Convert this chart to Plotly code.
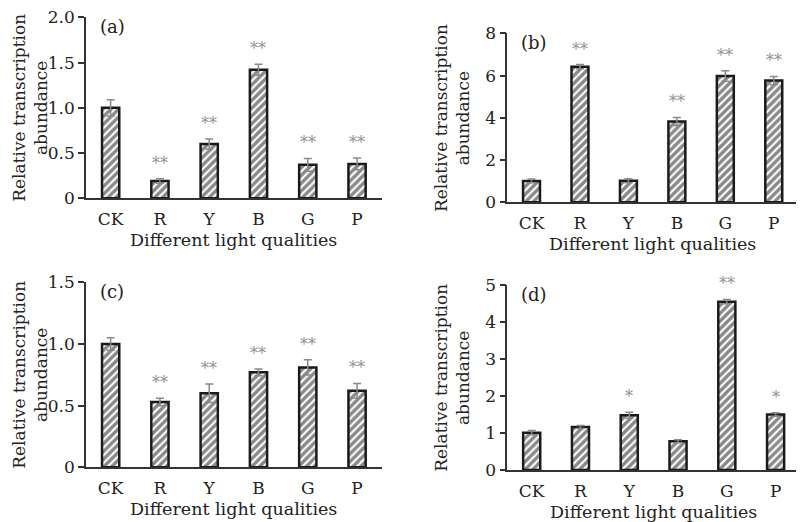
import plotly.graph_objects as go

categories = ["CK", "R", "Y", "B", "G", "P"]

a_values = [1.00, 0.19, 0.60, 1.42, 0.37, 0.38]
a_errors = [0.09, 0.025, 0.055, 0.06, 0.07, 0.065]
a_marks = ["", "**", "**", "**", "**", "**"]

b_values = [1.01, 6.42, 1.02, 3.83, 5.98, 5.76]
b_errors = [0.09, 0.10, 0.09, 0.19, 0.25, 0.20]
b_marks = ["", "**", "", "**", "**", "**"]

c_values = [1.00, 0.53, 0.60, 0.77, 0.81, 0.62]
c_errors = [0.05, 0.03, 0.075, 0.027, 0.062, 0.06]
c_marks = ["", "**", "**", "**", "**", "**"]

d_values = [1.01, 1.16, 1.48, 0.775, 4.55, 1.50]
d_errors = [0.06, 0.04, 0.08, 0.04, 0.06, 0.05]
d_marks = ["", "", "*", "", "**", "*"]

a_ticks = [0, 0.5, 1.0, 1.5, 2.0]
a_ticktext = ["0", "0.5", "1.0", "1.5", "2.0"]
b_ticks = [0, 2, 4, 6, 8]
b_ticktext = ["0", "2", "4", "6", "8"]
c_ticks = [0, 0.5, 1.0, 1.5]
c_ticktext = ["0", "0.5", "1.0", "1.5"]
d_ticks = [0, 1, 2, 3, 4, 5]
d_ticktext = ["0", "1", "2", "3", "4", "5"]

panel_labels = ["(a)", "(b)", "(c)", "(d)"]
y_title = "Relative transcription<br>abundance"
x_title = "Different light qualities"

W, H = 804, 522
OFF = 8  # page body margin offset
FONT = "DejaVu Serif"


def px_x(v):
    return (v - OFF) / W


def px_y(v):
    return 1 - (v - OFF) / H


panels = [
    dict(vals=a_values, errs=a_errors, marks=a_marks, ticks=a_ticks, ticktext=a_ticktext,
         yrange=[0, 2.0], xpx=(86, 381.7), ypx=(198.3, 17.3)),
    dict(vals=b_values, errs=b_errors, marks=b_marks, ticks=b_ticks, ticktext=b_ticktext,
         yrange=[0, 8], xpx=(507.3, 798), ypx=(202.3, 33.3)),
    dict(vals=c_values, errs=c_errors, marks=c_marks, ticks=c_ticks, ticktext=c_ticktext,
         yrange=[0, 1.5], xpx=(86, 381.7), ypx=(467.3, 282.3)),
    dict(vals=d_values, errs=d_errors, marks=d_marks, ticks=d_ticks, ticktext=d_ticktext,
         yrange=[0, 5], xpx=(507.3, 800), ypx=(470, 285)),
]

fig = go.Figure()
annotations = []
layout = {}

for i, p in enumerate(panels):
    n = "" if i == 0 else str(i + 1)
    xa, ya = "x" + n, "y" + n
    fig.add_trace(go.Bar(
        x=categories, y=p["vals"], xaxis=xa, yaxis=ya, width=0.35,
        marker=dict(color="white", line=dict(color="#1a1a1a", width=2.5),
                    pattern=dict(shape="/", fgcolor="#111111", bgcolor="white",
                                 size=5.5, solidity=0.6)),
        error_y=dict(type="data", array=p["errs"], color="#8a8a8a", thickness=1.5, width=4),
        showlegend=False,
    ))
    xd = [px_x(p["xpx"][0]), px_x(p["xpx"][1])]
    yd = [px_y(p["ypx"][0]), px_y(p["ypx"][1])]
    layout["xaxis" + n] = dict(
        domain=xd, anchor=ya, range=[-0.5, 5.5], showline=True, linecolor="#333333",
        linewidth=1.5, ticks="", showgrid=False, zeroline=False, automargin=False,
        ticklabeloverflow="allow",
        tickfont=dict(family=FONT, size=17, color="#222222"), ticklabelstandoff=5,
    )
    layout["yaxis" + n] = dict(
        domain=yd, anchor=xa, range=p["yrange"], showline=True, linecolor="#333333",
        linewidth=1.5, ticks="outside", ticklen=6, tickwidth=1.5, tickcolor="#333333",
        tickvals=p["ticks"], ticktext=p["ticktext"], showgrid=False, zeroline=False,
        automargin=False, ticklabeloverflow="allow",
        tickfont=dict(family=FONT, size=17, color="#222222"), ticklabelstandoff=0,
    )
    for c, v, e, m in zip(categories, p["vals"], p["errs"], p["marks"]):
        if m:
            annotations.append(dict(
                x=c, y=v + e, xref=xa, yref=ya, text=m, showarrow=False,
                yanchor="bottom", yshift=4,
                font=dict(family=FONT, size=16, color="#909090"),
            ))
    # panel label
    annotations.append(dict(
        x=px_x(p["xpx"][0] + 12), y=px_y(p["ypx"][1] + 9), xref="paper", yref="paper",
        text=panel_labels[i], showarrow=False, xanchor="left", yanchor="middle",
        font=dict(family=FONT, size=18, color="#222222"),
    ))
    # y title
    annotations.append(dict(
        x=px_x(p["xpx"][0] - 56), y=(yd[0] + yd[1]) / 2, xref="paper", yref="paper",
        text=y_title, showarrow=False, textangle=-90, xanchor="center", yanchor="middle",
        font=dict(family=FONT, size=17, color="#222222"),
    ))
    # x title
    annotations.append(dict(
        x=(xd[0] + xd[1]) / 2, y=px_y(p["ypx"][0] + 42), xref="paper", yref="paper",
        text=x_title, showarrow=False, xanchor="center", yanchor="middle",
        font=dict(family=FONT, size=17.5, color="#222222"),
    ))

fig.update_layout(
    width=W, height=H, margin=dict(l=0, r=0, t=0, b=0, pad=0, autoexpand=False),
    paper_bgcolor="white", plot_bgcolor="white",
    annotations=annotations, **layout,
)

fig.write_html("out.html")
